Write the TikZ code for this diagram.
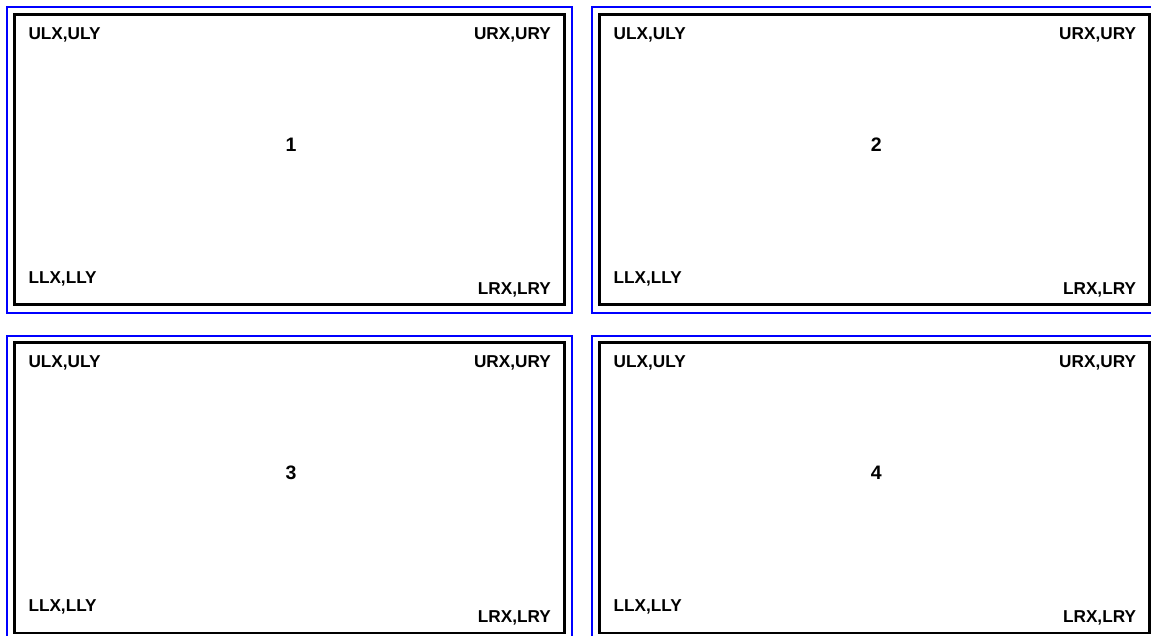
\documentclass[tikz,border=0pt]{standalone}
\usepackage{fontspec}
\setmainfont{Liberation Sans}
\begin{document}
\begin{tikzpicture}[x=1pt,y=-1pt,
  outerbox/.style={draw={rgb,255:red,0;green,0;blue,255},line width=2pt},
  innerbox/.style={draw=black,line width=2.8pt},
  lbl/.style={inner sep=0pt,font=\fontsize{17.2}{19}\selectfont\bfseries},
  num/.style={inner sep=0pt,font=\fontsize{19.5}{22}\selectfont\bfseries}]
\clip (0,0) rectangle (1151,635);
\fill[white] (0,0) rectangle (1151,635);
\foreach \i/\dx/\dy in {1/0/0, 2/585.2/0, 3/0/328.5, 4/585.2/328.5}{
  \begin{scope}[shift={(\dx,\dy)}]
    \draw[outerbox] (6.8,7) rectangle (572,313);
    \draw[innerbox] (14.3,14.3) rectangle (564.5,304.5);
    \node[lbl,anchor=base west] (ul\i) at (28.3,39) {ULX,ULY};
    \node[lbl,anchor=base east] (ur\i) at (551,39) {URX,URY};
    \node[lbl,anchor=base west] (ll\i) at (28.3,283.3) {LLX,LLY};
    \node[lbl,anchor=base east] (lr\i) at (551,294.3) {LRX,LRY};
    \node[num] (c\i) at (291,144.5) {\i};
  \end{scope}
}
\end{tikzpicture}
\end{document}
